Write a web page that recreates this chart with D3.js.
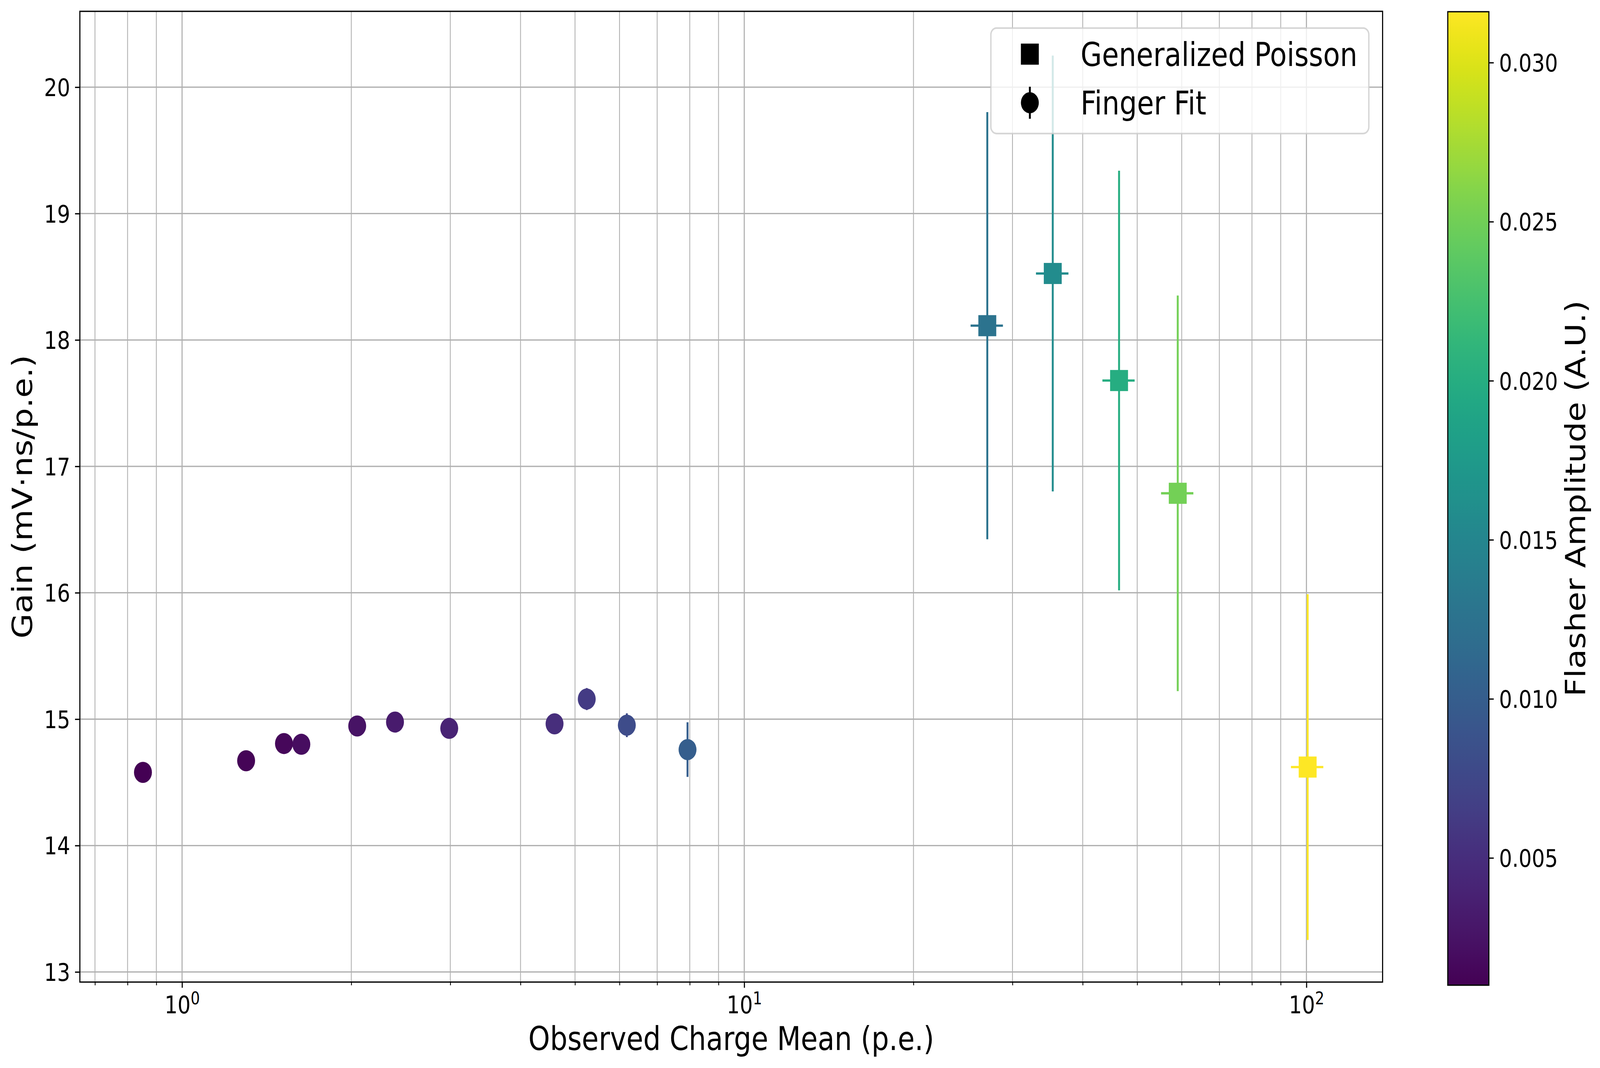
<!DOCTYPE html>
<html>
<head>
<meta charset="utf-8">
<script src="https://cdn.jsdelivr.net/npm/d3@7"></script>
<style>
  html, body { margin: 0; padding: 0; background: #fff; overflow: hidden; }
  svg { display: block; width: 100vw; height: 100vh; }
  text { font-family: "DejaVu Sans", sans-serif; fill: #000; }
</style>
</head>
<body>
<svg id="chart" viewBox="0 0 4824 2734" preserveAspectRatio="none"></svg>
<script>
// finger fit points
const fingerCharge = [0.852, 1.300, 1.518, 1.630, 2.049, 2.392, 2.987, 4.598, 5.246, 6.182, 7.927];
const fingerGain = [14.579, 14.671, 14.807, 14.801, 14.946, 14.977, 14.927, 14.963, 15.159, 14.952, 14.759];
const fingerGainErr = [0.04, 0.04, 0.05, 0.05, 0.05, 0.05, 0.06, 0.07, 0.087, 0.094, 0.216];
const fingerAmp = [0.00100, 0.00126, 0.00158, 0.00200, 0.00251, 0.00316, 0.00398, 0.00501, 0.00631, 0.00794, 0.0100];

// generalized poisson points
const poissonCharge = [27.06, 35.38, 46.42, 59.03, 100.5];
const poissonChargeErr = [1.79, 2.35, 3.06, 3.90, 6.65];
const poissonGain = [18.113, 18.526, 17.679, 16.787, 14.621];
const poissonGainErr = [1.69, 1.724, 1.66, 1.565, 1.368];
const poissonAmp = [0.0126, 0.0158, 0.0200, 0.0251, 0.0316];

const yTicks = [13, 14, 15, 16, 17, 18, 19, 20];
const xMajor = [1, 10, 100];
const xMinor = [0.7, 0.8, 0.9, 2, 3, 4, 5, 6, 7, 8, 9, 20, 30, 40, 50, 60, 70, 80, 90];
const cbarTicks = [0.005, 0.010, 0.015, 0.020, 0.025, 0.030];

const svg = d3.select('#chart');
const pLeft = 240.8, pRight = 4168.5, pTop = 29, pBottom = 2514;
const tickFont = 62, labelFont = 83;

const x = d3.scaleLog().domain([0.658, 136.6]).range([pLeft, pRight]);
const y = d3.scaleLinear().domain([12.92, 20.60]).range([pBottom, pTop]);

const allAmp = fingerAmp.concat(poissonAmp);
const color = d3.scaleSequential(d3.interpolateViridis).domain(d3.extent(allAmp));

svg.append('rect').attr('width', 4824).attr('height', 2734).attr('fill', '#fff');

// grid
const grid = svg.append('g');
grid.selectAll('.gx').data(xMinor).enter().append('line')
    .attr('x1', d => x(d)).attr('x2', d => x(d))
    .attr('y1', pTop).attr('y2', pBottom)
    .attr('stroke', '#b0b0b0').attr('stroke-width', 2.5);
grid.selectAll('.gX').data(xMajor).enter().append('line')
    .attr('x1', d => x(d)).attr('x2', d => x(d))
    .attr('y1', pTop).attr('y2', pBottom)
    .attr('stroke', '#b0b0b0').attr('stroke-width', 3.3);
grid.selectAll('.gy').data(yTicks).enter().append('line')
    .attr('x1', pLeft).attr('x2', pRight)
    .attr('y1', d => y(d)).attr('y2', d => y(d))
    .attr('stroke', '#b0b0b0').attr('stroke-width', 3.3);

// data
const finger = fingerCharge.map((c, i) => ({c: c, g: fingerGain[i], e: fingerGainErr[i], a: fingerAmp[i]}));
const poisson = poissonCharge.map((c, i) => ({c: c, ce: poissonChargeErr[i], g: poissonGain[i], e: poissonGainErr[i], a: poissonAmp[i]}));

const plot = svg.append('g');
finger.forEach(p => {
    plot.append('line')
        .attr('x1', x(p.c)).attr('x2', x(p.c))
        .attr('y1', y(p.g - p.e)).attr('y2', y(p.g + p.e))
        .attr('stroke', color(p.a)).attr('stroke-width', 5.8);
    plot.append('circle')
        .attr('cx', x(p.c)).attr('cy', y(p.g)).attr('r', 27)
        .attr('fill', color(p.a));
});

poisson.forEach(p => {
    plot.append('line')
        .attr('x1', x(p.c)).attr('x2', x(p.c))
        .attr('y1', y(p.g - p.e)).attr('y2', y(p.g + p.e))
        .attr('stroke', color(p.a)).attr('stroke-width', 5.8);
    plot.append('line')
        .attr('x1', x(p.c - p.ce)).attr('x2', x(p.c + p.ce))
        .attr('y1', y(p.g)).attr('y2', y(p.g))
        .attr('stroke', color(p.a)).attr('stroke-width', 5.8);
    plot.append('rect')
        .attr('x', x(p.c) - 27).attr('y', y(p.g) - 27)
        .attr('width', 54).attr('height', 54)
        .attr('fill', color(p.a));
});

// frame
svg.append('rect')
    .attr('x', pLeft).attr('y', pTop)
    .attr('width', pRight - pLeft).attr('height', pBottom - pTop)
    .attr('fill', 'none').attr('stroke', '#000').attr('stroke-width', 3.3);

// x axis
const xAxis = svg.append('g').attr('transform', `translate(0,${pBottom})`)
    .call(d3.axisBottom(x).tickValues(xMajor).tickSize(14.6).tickSizeOuter(0).tickFormat(() => ''));
xAxis.select('.domain').remove();
xAxis.attr('font-family', null).attr('font-size', null);
xAxis.selectAll('.tick line').attr('stroke-width', 3.3);
xAxis.selectAll('.tick text').remove();
xAxis.selectAll('.tick').append('text')
    .attr('y', 80).attr('text-anchor', 'middle')
    .style('font-size', tickFont + 'px')
    .each(function (d) {
        const t = d3.select(this);
        t.append('tspan').text('10');
        t.append('tspan').attr('dy', -23).style('font-size', '44px').text(Math.round(Math.log10(d)));
    });

const xMinorAxis = svg.append('g').attr('transform', `translate(0,${pBottom})`)
    .call(d3.axisBottom(x).tickValues(xMinor).tickSize(8.3).tickSizeOuter(0).tickFormat(() => ''));
xMinorAxis.select('.domain').remove();
xMinorAxis.selectAll('.tick line').attr('stroke-width', 2.5);

// y axis
const yAxis = svg.append('g').attr('transform', `translate(${pLeft},0)`)
    .call(d3.axisLeft(y).tickValues(yTicks).tickSize(14.6).tickSizeOuter(0).tickPadding(14.6).tickFormat(d3.format('d')));
yAxis.select('.domain').remove();
yAxis.attr('font-family', null).attr('font-size', null);
yAxis.selectAll('.tick line').attr('stroke-width', 3.3);
yAxis.selectAll('.tick text')
    .style('font-size', tickFont + 'px')
    .attr('dy', '0.36em');

// axis labels
svg.append('text')
    .attr('x', (pLeft + pRight) / 2).attr('y', 2688)
    .attr('text-anchor', 'middle')
    .style('font-size', labelFont + 'px')
    .text('Observed Charge Mean (p.e.)');

svg.append('text')
    .attr('transform', `translate(96,${(pTop + pBottom) / 2}) rotate(-90)`)
    .attr('text-anchor', 'middle')
    .style('font-size', labelFont + 'px')
    .text('Gain (mV\u00b7ns/p.e.)');

// colorbar
const cbLeft = 4365, cbRight = 4489, cbTop = 30, cbBottom = 2522;
const cb = d3.scaleLinear().domain(d3.extent(allAmp)).range([cbBottom, cbTop]);

const grad = svg.append('defs').append('linearGradient')
    .attr('id', 'viridis').attr('x1', 0).attr('y1', 1).attr('x2', 0).attr('y2', 0);
grad.selectAll('stop').data(d3.range(0, 1.0001, 0.02)).enter().append('stop')
    .attr('offset', d => d)
    .attr('stop-color', d => d3.interpolateViridis(d));

svg.append('rect')
    .attr('x', cbLeft).attr('y', cbTop)
    .attr('width', cbRight - cbLeft).attr('height', cbBottom - cbTop)
    .attr('fill', 'url(#viridis)')
    .attr('stroke', '#000').attr('stroke-width', 3.3);

const cbAxis = svg.append('g').attr('transform', `translate(${cbRight},0)`)
    .call(d3.axisRight(cb).tickValues(cbarTicks).tickSize(14.6).tickSizeOuter(0).tickPadding(16).tickFormat(d3.format('.3f')));
cbAxis.select('.domain').remove();
cbAxis.attr('font-family', null).attr('font-size', null);
cbAxis.selectAll('.tick line').attr('stroke-width', 3.3);
cbAxis.selectAll('.tick text')
    .style('font-size', tickFont + 'px')
    .attr('dy', '0.36em');

svg.append('text')
    .attr('transform', `translate(4779,${(cbTop + cbBottom) / 2}) rotate(-90)`)
    .attr('text-anchor', 'middle')
    .style('font-size', labelFont + 'px')
    .text('Flasher Amplitude (A.U.)');

// legend
const legend = svg.append('g');
legend.append('rect')
    .attr('x', 2987.5).attr('y', 71.8)
    .attr('width', 1139.5).attr('height', 270)
    .attr('rx', 17).attr('ry', 17)
    .attr('fill', '#fff').attr('fill-opacity', 0.8)
    .attr('stroke', '#cccccc').attr('stroke-opacity', 0.8).attr('stroke-width', 4.2);

legend.append('rect')
    .attr('x', 3105 - 27).attr('y', 138.6 - 27)
    .attr('width', 54).attr('height', 54).attr('fill', '#000');
legend.append('text')
    .attr('x', 3258).attr('y', 169)
    .style('font-size', labelFont + 'px')
    .text('Generalized Poisson');

legend.append('line')
    .attr('x1', 3105).attr('x2', 3105)
    .attr('y1', 222).attr('y2', 304)
    .attr('stroke', '#000').attr('stroke-width', 5.8);
legend.append('circle')
    .attr('cx', 3105).attr('cy', 263).attr('r', 27).attr('fill', '#000');
legend.append('text')
    .attr('x', 3258).attr('y', 293)
    .style('font-size', labelFont + 'px')
    .text('Finger Fit');
</script>
</body>
</html>
